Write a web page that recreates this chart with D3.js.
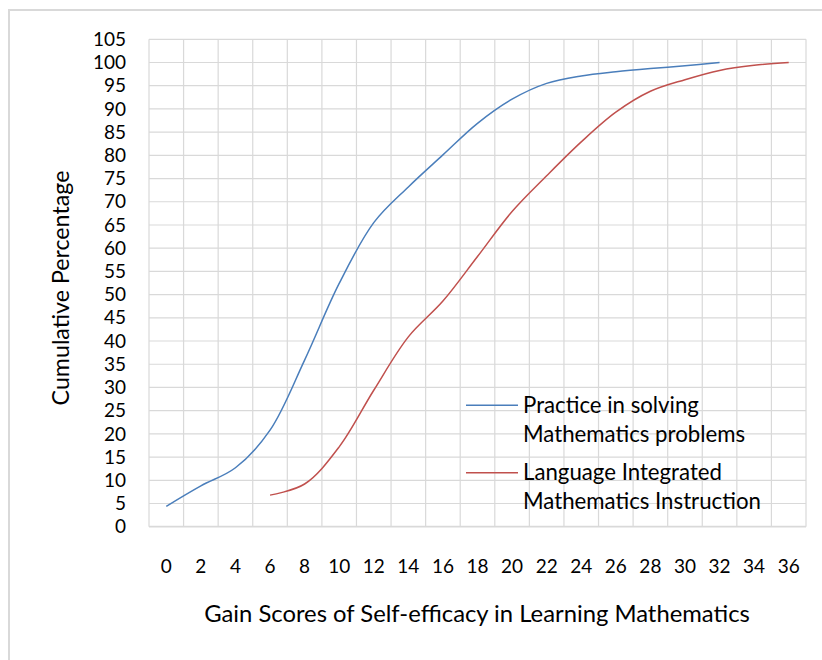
<!DOCTYPE html>
<html>
<head>
<meta charset="utf-8">
<script src="https://cdn.jsdelivr.net/npm/d3@7"></script>
<style>
  html, body { margin: 0; padding: 0; background: #fff; }
  svg { display: block; font-family: Lato, "Open Sans", sans-serif; }
</style>
</head>
<body>
<svg id="chart" width="822" height="660"></svg>
<script>
// ---- data ----
const categories = ["0","2","4","6","8","10","12","14","16","18","20","22","24","26","28","30","32","34","36"];
const yTicks = [0,5,10,15,20,25,30,35,40,45,50,55,60,65,70,75,80,85,90,95,100,105];
const practiceCats = ["0","2","4","6","8","10","12","14","16","18","20","22","24","26","28","30","32"];
const practiceValues = [4.4, 8.8, 12.7, 20.8, 35.9, 52.4, 65.5, 73.2, 80.1, 86.9, 92.1, 95.5, 97.1, 98.0, 98.7, 99.3, 100];
const languageCats = ["6","8","10","12","14","16","18","20","22","24","26","28","30","32","34","36"];
const languageValues = [6.8, 9.2, 17.2, 29.4, 40.9, 48.6, 58.2, 67.9, 75.6, 82.9, 89.3, 93.8, 96.3, 98.3, 99.4, 100];
const seriesNames = [["Practice in solving", "Mathematics problems"], ["Language Integrated", "Mathematics Instruction"]];
const xTitle = "Gain Scores of Self-efficacy in Learning Mathematics";
const yTitle = "Cumulative Percentage";

(function () {
// ---- layout ----
const svg = d3.select("#chart");
const pLeft = 149, pRight = 806, pTop = 39.3, pBottom = 526.7;
const x = d3.scaleBand().domain(categories).range([pLeft, pRight]).padding(0);
const y = d3.scaleLinear().domain([0, 105]).range([pBottom, pTop]);
const cx = c => x(c) + x.bandwidth() / 2;
const grid = "#d9d9d9";
const colors = ["#4a7ebb", "#c0504d"];

// outer chart frame
svg.append("rect").attr("x", 9).attr("y", 10).attr("width", 900).attr("height", 800)
  .attr("fill", "none").attr("stroke", grid).attr("stroke-width", 2);

// horizontal gridlines
svg.append("g").selectAll("line").data(yTicks.filter(d => d > 0)).join("line")
  .attr("x1", pLeft).attr("x2", pRight)
  .attr("y1", d => y(d)).attr("y2", d => y(d))
  .attr("stroke", grid).attr("stroke-width", 1.2);

// vertical gridlines (category boundaries)
const bounds = categories.map(c => x(c)).concat([pRight]);
svg.append("g").selectAll("line").data(bounds).join("line")
  .attr("x1", d => d).attr("x2", d => d)
  .attr("y1", pTop).attr("y2", pBottom)
  .attr("stroke", grid).attr("stroke-width", 1.2);

// x axis line
svg.append("line").attr("x1", pLeft).attr("x2", pRight).attr("y1", y(0)).attr("y2", y(0))
  .attr("stroke", grid).attr("stroke-width", 1.8);

// y tick labels
svg.append("g").selectAll("text").data(yTicks).join("text")
  .attr("x", 126).attr("y", d => y(d)).attr("dy", "0.35em")
  .attr("text-anchor", "end").attr("font-size", 19).attr("fill", "#000")
  .text(d => d);

// x tick labels
svg.append("g").selectAll("text").data(categories).join("text")
  .attr("x", d => cx(d)).attr("y", 573.3)
  .attr("text-anchor", "middle").attr("font-size", 19).attr("fill", "#000")
  .text(d => d);

function fit(sel, target) {
  const node = sel.node();
  const fs = parseFloat(sel.attr("font-size"));
  const w = node.getComputedTextLength();
  if (w > 0) sel.attr("font-size", (fs * target / w).toFixed(2));
}

// axis titles
const xt = svg.append("text").attr("x", 477).attr("y", 622).attr("text-anchor", "middle")
  .attr("font-size", 20).attr("fill", "#000").text(xTitle);
fit(xt, 546);
const yt = svg.append("text").attr("transform", "translate(69,288) rotate(-90)")
  .attr("text-anchor", "middle").attr("font-size", 20).attr("fill", "#000").text(yTitle);
fit(yt, 235);

// lines
const line = d3.line().x(d => cx(d[0])).y(d => y(d[1])).curve(d3.curveCatmullRom.alpha(0.5));
svg.append("path").datum(d3.zip(practiceCats, practiceValues)).attr("d", line)
  .attr("fill", "none").attr("stroke", colors[0]).attr("stroke-width", 1.5);
svg.append("path").datum(d3.zip(languageCats, languageValues)).attr("d", line)
  .attr("fill", "none").attr("stroke", colors[1]).attr("stroke-width", 1.5);

// legend
const legendY = [405.3, 472.7];
const legendBase = [[413.3, 442.3], [480.0, 509.0]];
const legendTexts = [];
seriesNames.forEach((names, i) => {
  svg.append("line").attr("x1", 466).attr("x2", 518).attr("y1", legendY[i]).attr("y2", legendY[i])
    .attr("stroke", colors[i]).attr("stroke-width", 1.5);
  names.forEach((n, j) => {
    const t = svg.append("text").attr("x", 523).attr("y", legendBase[i][j])
      .attr("font-size", 20).attr("fill", "#000").text(n);
    legendTexts.push(t);
  });
});
// common legend font size fitted to the longest line
const longest = legendTexts[3];
fit(longest, 238);
const fsL = longest.attr("font-size");
legendTexts.forEach(t => t.attr("font-size", fsL));
})();
</script>
</body>
</html>
